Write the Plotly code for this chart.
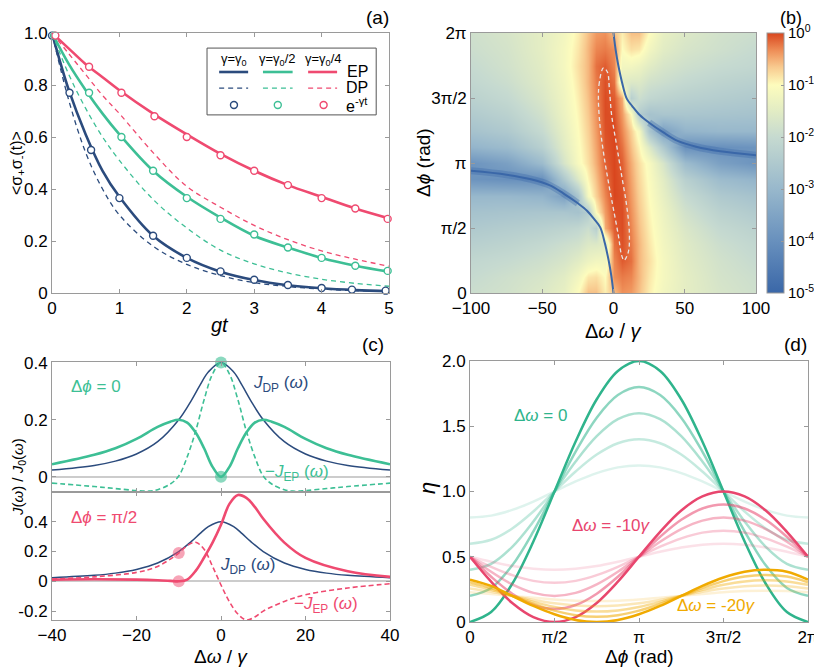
import plotly.graph_objects as go

FONT = "Arial, 'Liberation Sans', sans-serif"
NAVY = '#2b4b7d'
GREEN = '#3dbf95'
PINK = '#ef4a70'
D_GREEN = '47,180,140'
D_PINK = '232,70,110'
D_ORANGE = '240,170,0'
FRAME = '#9a9a9a'

# the page adds an 8px body margin, so the figure is drawn 8px smaller and shifted
W, H, OFF = 814, 659, 8

# ---------------- (a) decay curves ----------------
t_grid = [0, 0.25, 0.5, 0.75, 1, 1.5, 2, 2.5, 3, 3.5, 4, 4.5, 5]
ep_g0 = [1, 0.78, 0.61, 0.47, 0.37, 0.22, 0.135, 0.082, 0.05, 0.03, 0.018, 0.011, 0.007]
ep_g2 = [1, 0.88, 0.78, 0.69, 0.61, 0.47, 0.37, 0.29, 0.22, 0.175, 0.135, 0.105, 0.082]
ep_g4 = [1, 0.94, 0.88, 0.83, 0.78, 0.69, 0.61, 0.535, 0.47, 0.415, 0.37, 0.325, 0.287]
dp_g0 = [1, 0.74, 0.54, 0.40, 0.30, 0.18, 0.11, 0.067, 0.04, 0.025, 0.015, 0.009, 0.005]
dp_g2 = [1, 0.84, 0.71, 0.60, 0.51, 0.36, 0.25, 0.165, 0.112, 0.077, 0.053, 0.037, 0.026]
dp_g4 = [1, 0.92, 0.84, 0.76, 0.69, 0.54, 0.41, 0.33, 0.26, 0.205, 0.162, 0.13, 0.103]

circ_t_g0 = [0, 0.26, 0.58, 1.0, 1.5, 2.0, 2.5, 3.0, 3.5, 4.0, 4.45, 4.95]
circ_v_g0 = [0.99, 0.77, 0.55, 0.365, 0.22, 0.135, 0.083, 0.051, 0.031, 0.019, 0.013, 0.009]
circ_t_g2 = [0.03, 0.55, 1.03, 1.5, 2.0, 2.5, 3.0, 3.5, 4.0, 4.5, 4.98]
circ_v_g2 = [0.99, 0.77, 0.60, 0.47, 0.365, 0.285, 0.225, 0.175, 0.135, 0.105, 0.085]
circ_t_g4 = [0.05, 0.55, 1.03, 1.52, 2.0, 2.5, 3.0, 3.5, 4.0, 4.5, 4.98]
circ_v_g4 = [0.99, 0.87, 0.77, 0.68, 0.60, 0.53, 0.47, 0.415, 0.365, 0.325, 0.285]

# ---------------- (b) log10 map, one list per detuning column ----------------
hm_dw = [-100, -75, -50, -35, -25, -18, -12, -6, 0, 6, 12, 18, 25, 35, 50, 75, 100]
hm_phi = [0, 0.125, 0.25, 0.375, 0.5, 0.625, 0.75, 0.875, 1.0,
          1.125, 1.25, 1.375, 1.5, 1.625, 1.75, 1.875, 2.0]
col_m100 = [-1.9, -2.0, -2.1, -2.3, -2.5, -2.7, -3.0, -3.9, -3.9, -3.1, -2.7, -2.45, -2.25, -2.1, -2.0, -1.9, -1.85]
col_m75 = [-1.8, -1.85, -2.0, -2.2, -2.4, -2.65, -3.0, -4.0, -3.6, -2.9, -2.5, -2.25, -2.05, -1.9, -1.8, -1.75, -1.7]
col_m50 = [-1.6, -1.7, -1.85, -2.05, -2.3, -2.6, -3.1, -4.0, -2.9, -2.3, -2.0, -1.8, -1.65, -1.55, -1.5, -1.45, -1.45]
col_m35 = [-1.4, -1.5, -1.7, -1.9, -2.2, -2.6, -3.6, -2.5, -1.7, -1.5, -1.4, -1.3, -1.25, -1.2, -1.15, -1.15, -1.2]
col_m25 = [-1.0, -1.2, -1.5, -1.8, -2.1, -2.7, -2.6, -1.6, -1.1, -1.05, -1.0, -0.95, -0.9, -0.85, -0.8, -0.85, -0.9]
col_m18 = [-0.6, -0.85, -1.3, -1.6, -1.9, -2.4, -1.15, -0.95, -0.8, -0.75, -0.7, -0.65, -0.6, -0.55, -0.55, -0.55, -0.6]
col_m12 = [-0.6, -0.8, -1.2, -1.6, -2.3, -1.0, -0.7, -0.6, -0.5, -0.45, -0.4, -0.35, -0.3, -0.25, -0.2, -0.3, -0.4]
col_m6 = [-0.9, -1.0, -1.2, -1.5, -0.5, -0.4, -0.3, -0.2, -0.12, -0.08, -0.05, -0.03, -0.03, -0.05, -0.1, -0.25, -0.35]
col_0 = [-0.6, -0.35, -0.3, -0.2, -0.1, -0.05, 0, 0, 0, 0, 0, -0.05, -0.1, -0.2, -0.3, -0.35, -0.6]
col_p6 = [-0.35, -0.25, -0.1, -0.05, -0.03, -0.03, -0.05, -0.08, -0.12, -0.2, -0.3, -0.4, -0.5, -1.5, -1.2, -1.0, -0.9]
col_p12 = [-0.4, -0.3, -0.2, -0.25, -0.3, -0.35, -0.4, -0.45, -0.5, -0.6, -0.7, -1.0, -2.3, -1.6, -1.2, -0.8, -0.6]
col_p18 = [-0.6, -0.55, -0.55, -0.55, -0.6, -0.65, -0.7, -0.75, -0.8, -0.95, -1.15, -2.4, -1.9, -1.6, -1.3, -0.85, -0.6]
col_p25 = [-0.9, -0.85, -0.8, -0.85, -0.9, -0.95, -1.0, -1.05, -1.1, -1.6, -2.6, -2.7, -2.1, -1.8, -1.5, -1.2, -1.0]
col_p35 = [-1.2, -1.15, -1.15, -1.2, -1.25, -1.3, -1.4, -1.5, -1.7, -2.5, -3.6, -2.6, -2.2, -1.9, -1.7, -1.5, -1.4]
col_p50 = [-1.45, -1.45, -1.5, -1.55, -1.65, -1.8, -2.0, -2.3, -2.9, -4.0, -3.1, -2.6, -2.3, -2.05, -1.85, -1.7, -1.6]
col_p75 = [-1.7, -1.75, -1.8, -1.9, -2.05, -2.25, -2.5, -2.9, -3.6, -4.0, -3.0, -2.65, -2.4, -2.2, -2.0, -1.85, -1.8]
col_p100 = [-1.85, -1.9, -2.0, -2.1, -2.25, -2.45, -2.7, -3.1, -3.9, -3.9, -3.0, -2.7, -2.5, -2.3, -2.1, -2.0, -1.9]
hm_cols = [col_m100, col_m75, col_m50, col_m35, col_m25, col_m18, col_m12, col_m6, col_0,
           col_p6, col_p12, col_p18, col_p25, col_p35, col_p50, col_p75, col_p100]

# zero line of the map (phase in units of pi)
zl_left_dw = [-100, -75, -58, -45, -35, -25, -18.6, -13, -9.3, -6, -3.4, -1.5, 0]
zl_left_phi = [0.94, 0.91, 0.875, 0.83, 0.765, 0.69, 0.633, 0.56, 0.505, 0.38, 0.25, 0.13, 0]
zl_right_dw = [0, 1.5, 3.4, 6, 9.3, 13, 18.6, 25, 35, 45, 58, 75, 100]
zl_right_phi = [2.0, 1.87, 1.75, 1.62, 1.495, 1.44, 1.367, 1.31, 1.235, 1.17, 1.125, 1.09, 1.06]

# dashed contour round the maximum
ell_dw = [-7.1, -9.9, -10.6, -9.5, -7.1, -3.6, -0.1, 3.4, 5.7, 7.4, 10.4, 11.1, 9.2, 5.7, 2.2, -1.3, -2.9, -4.3, -7.1]
ell_phi = [1.731, 1.623, 1.495, 1.290, 1.085, 0.854, 0.649, 0.444, 0.290, 0.251, 0.315, 0.469, 0.674, 0.905,
           1.136, 1.367, 1.572, 1.700, 1.731]

# ---------------- (c) spectral densities ----------------
c_dp_x = [-40, -30, -25, -20, -15, -10, -7, -5, -3, 0, 3, 5, 7, 10, 15, 20, 25, 30, 40]
c_dp_y = [0.024, 0.04, 0.055, 0.08, 0.123, 0.2, 0.268, 0.32, 0.367, 0.4, 0.367, 0.32, 0.268, 0.2, 0.123,
          0.08, 0.055, 0.04, 0.024]
c0_ep_x = [-40, -30, -25, -20, -15, -12, -10, -8, -6, -4, -2, 0, 2, 4, 6, 8, 10, 12, 15, 20, 25, 30, 40]
c0_ep_y = [0.044, 0.077, 0.1, 0.133, 0.175, 0.193, 0.2, 0.19, 0.155, 0.1, 0.035, 0, 0.035, 0.1, 0.155,
           0.19, 0.2, 0.193, 0.175, 0.133, 0.1, 0.077, 0.044]
c0_mep_x = [-40, -30, -25, -20, -17, -15, -12, -10, -8, -6, -4, -2, 0, 2, 4, 6, 8, 10, 12, 15, 17, 20, 25, 30, 40]
c0_mep_y = [-0.022, -0.034, -0.041, -0.048, -0.05, -0.045, -0.025, 0.003, 0.07, 0.16, 0.27, 0.36, 0.4,
            0.36, 0.27, 0.16, 0.07, 0.003, -0.025, -0.045, -0.05, -0.048, -0.041, -0.034, -0.022]
c0_dots_x = [0, 0]
c0_dots_y = [0.4, 0.0]

c1_ep_x = [-40, -30, -20, -15, -12, -10, -8, -6, -4, -2, 0, 2, 4, 6, 8, 10, 15, 20, 30, 40]
c1_ep_y = [0.011, 0.014, 0.011, 0.007, 0.003, 0.0, 0.012, 0.07, 0.16, 0.26, 0.38, 0.52, 0.58, 0.56, 0.5,
           0.42, 0.26, 0.157, 0.067, 0.03]
c1_mep_x = [-40, -30, -20, -15, -10, -8, -6, -4, -2, 0, 2, 4, 6, 8, 10, 15, 20, 30, 40]
c1_mep_y = [0.015, 0.03, 0.06, 0.1, 0.19, 0.24, 0.262, 0.215, 0.1, -0.025, -0.138, -0.22, -0.26, -0.24,
            -0.2, -0.135, -0.09, -0.045, -0.016]
c1_dots_x = [-10, -10]
c1_dots_y = [0.19, 0.0]

# ---------------- (d) efficiency vs phase ----------------
d_phi = [0, 0.125, 0.25, 0.375, 0.5, 0.625, 0.75, 0.875, 1.0,
         1.125, 1.25, 1.375, 1.5, 1.625, 1.75, 1.875, 2.0]
eta_dw0 = [
    [0.8, 0.815, 0.859, 0.923, 1, 1.077, 1.141, 1.185, 1.2, 1.185, 1.141, 1.077, 1, 0.923, 0.859, 0.815, 0.8],
    [0.6, 0.630, 0.717, 0.847, 1, 1.153, 1.283, 1.370, 1.4, 1.370, 1.283, 1.153, 1, 0.847, 0.717, 0.630, 0.6],
    [0.4, 0.446, 0.576, 0.770, 1, 1.230, 1.424, 1.554, 1.6, 1.554, 1.424, 1.230, 1, 0.770, 0.576, 0.446, 0.4],
    [0.2, 0.261, 0.434, 0.694, 1, 1.306, 1.566, 1.739, 1.8, 1.739, 1.566, 1.306, 1, 0.694, 0.434, 0.261, 0.2],
    [0, 0.076, 0.293, 0.617, 1, 1.383, 1.707, 1.924, 2.0, 1.924, 1.707, 1.383, 1, 0.617, 0.293, 0.076, 0],
]
eta_dw10 = [
    [0.5, 0.462, 0.429, 0.408, 0.4, 0.408, 0.429, 0.462, 0.5, 0.538, 0.571, 0.592, 0.6, 0.592, 0.571, 0.538, 0.5],
    [0.5, 0.423, 0.359, 0.315, 0.3, 0.315, 0.359, 0.423, 0.5, 0.577, 0.641, 0.685, 0.7, 0.685, 0.641, 0.577, 0.5],
    [0.5, 0.385, 0.288, 0.223, 0.2, 0.223, 0.288, 0.385, 0.5, 0.615, 0.712, 0.777, 0.8, 0.777, 0.712, 0.615, 0.5],
    [0.5, 0.347, 0.217, 0.130, 0.1, 0.130, 0.217, 0.347, 0.5, 0.653, 0.783, 0.870, 0.9, 0.870, 0.783, 0.653, 0.5],
    [0.5, 0.309, 0.146, 0.038, 0, 0.038, 0.146, 0.309, 0.5, 0.691, 0.854, 0.962, 1.0, 0.962, 0.854, 0.691, 0.5],
]
eta_dw20 = [
    [0.228, 0.215, 0.2, 0.185, 0.172, 0.163, 0.16, 0.163, 0.172, 0.185, 0.2, 0.215, 0.228, 0.237, 0.24, 0.237, 0.228],
    [0.257, 0.231, 0.2, 0.169, 0.143, 0.126, 0.12, 0.126, 0.143, 0.169, 0.2, 0.231, 0.257, 0.274, 0.28, 0.274, 0.257],
    [0.285, 0.246, 0.2, 0.154, 0.115, 0.089, 0.08, 0.089, 0.115, 0.154, 0.2, 0.246, 0.285, 0.311, 0.32, 0.311, 0.285],
    [0.305, 0.261, 0.2, 0.139, 0.087, 0.052, 0.04, 0.052, 0.087, 0.139, 0.2, 0.261, 0.313, 0.348, 0.36, 0.348, 0.305],
    [0.325, 0.277, 0.2, 0.123, 0.059, 0.015, 0, 0.015, 0.059, 0.123, 0.2, 0.277, 0.341, 0.385, 0.4, 0.385, 0.325],
]
d_alpha = [0.16, 0.28, 0.4, 0.55, 1.0]

PI_TICKS = [0, 0.5, 1, 1.5, 2]
PI_TEXT = ['0', 'π/2', 'π', '3π/2', '2π']


def px(xp, yp):
    """screen pixel -> paper fraction"""
    return (xp - OFF) / W, 1 - (yp - OFF) / H


def xdom(a, b):
    return [px(a, 0)[0], px(b, 0)[0]]


def ydom(top, bottom):
    return [px(0, bottom)[1], px(0, top)[1]]


def ax(domain, **kw):
    base = dict(domain=domain, showline=True, linecolor=FRAME, linewidth=1, mirror='ticks',
                ticks='inside', ticklen=4, tickcolor=FRAME, showgrid=False, zeroline=False,
                automargin=False, tickfont=dict(size=17, color='black', family=FONT))
    base.update(kw)
    return base


fig = go.Figure()

# (a)
for ep, dp, col in [(ep_g0, dp_g0, NAVY), (ep_g2, dp_g2, GREEN), (ep_g4, dp_g4, PINK)]:
    fig.add_trace(go.Scatter(x=t_grid, y=dp, mode='lines', line=dict(color=col, width=1.3, dash='5px,4px', shape='spline'),
                             xaxis='x', yaxis='y'))
    fig.add_trace(go.Scatter(x=t_grid, y=ep, mode='lines', line=dict(color=col, width=2.6, shape='spline'),
                             xaxis='x', yaxis='y'))
for ct, cv, col in [(circ_t_g0, circ_v_g0, NAVY), (circ_t_g2, circ_v_g2, GREEN), (circ_t_g4, circ_v_g4, PINK)]:
    fig.add_trace(go.Scatter(x=ct, y=cv, mode='markers', cliponaxis=False,
                             marker=dict(symbol='circle', size=7, color='white', line=dict(color=col, width=1.4)),
                             xaxis='x', yaxis='y'))

# (b)
map_scale = [[0.0, '#3a67a8'], [0.2, '#6890bd'], [0.4, '#98b8cc'], [0.6, '#c6dad0'], [0.7, '#e2ecc4'],
             [0.8, '#fdfcbd'], [0.87, '#f8c98e'], [0.93, '#ef915a'], [1.0, '#d9461e']]
cb_x, cb_y = px(767, 163)
fig.add_trace(go.Heatmap(
    x=hm_dw, y=hm_phi, z=hm_cols, transpose=True, zsmooth='best', zmin=-5, zmax=0,
    colorscale=map_scale, xaxis='x2', yaxis='y2',
    colorbar=dict(x=cb_x, xanchor='left', y=cb_y, yanchor='middle', len=260 / H,
                  thickness=17, xpad=0, ypad=0, outlinecolor=FRAME, outlinewidth=1,
                  tickvals=[-5, -4, -3, -2, -1, 0], ticks='inside', ticklen=3, tickcolor=FRAME,
                  ticktext=['10<sup>-5</sup>', '10<sup>-4</sup>', '10<sup>-3</sup>', '10<sup>-2</sup>',
                            '10<sup>-1</sup>', '10<sup>0</sup>'],
                  tickfont=dict(size=15, color='black', family=FONT))))
# broad dark band where the zero line runs flat
fig.add_trace(go.Scatter(x=zl_left_dw[:6], y=zl_left_phi[:6], mode='lines',
                         line=dict(color='rgba(58,103,168,0.35)', width=7, shape='spline'), xaxis='x2', yaxis='y2'))
fig.add_trace(go.Scatter(x=zl_right_dw[7:], y=zl_right_phi[7:], mode='lines',
                         line=dict(color='rgba(58,103,168,0.35)', width=7, shape='spline'), xaxis='x2', yaxis='y2'))
for xs, ys in [(zl_left_dw, zl_left_phi), (zl_right_dw, zl_right_phi)]:
    fig.add_trace(go.Scatter(x=xs, y=ys, mode='lines', line=dict(color='#3a67a8', width=2, shape='spline'),
                             xaxis='x2', yaxis='y2'))
fig.add_trace(go.Scatter(x=ell_dw, y=ell_phi, mode='lines', line=dict(color='#e6e6e6', width=1.3, dash='4px,3px', shape='spline'),
                         xaxis='x2', yaxis='y2'))

# (c) top
fig.add_trace(go.Scatter(x=c_dp_x, y=c_dp_y, mode='lines', line=dict(color=NAVY, width=1.5, shape='spline'),
                         xaxis='x3', yaxis='y3'))
fig.add_trace(go.Scatter(x=c0_mep_x, y=c0_mep_y, mode='lines', line=dict(color=GREEN, width=1.6, dash='5px,3px', shape='spline'),
                         xaxis='x3', yaxis='y3'))
fig.add_trace(go.Scatter(x=c0_ep_x, y=c0_ep_y, mode='lines', line=dict(color=GREEN, width=2.6, shape='spline'),
                         xaxis='x3', yaxis='y3'))
fig.add_trace(go.Scatter(x=c0_dots_x, y=c0_dots_y, mode='markers', cliponaxis=False,
                         marker=dict(size=12, color='rgba(61,191,149,0.6)'), xaxis='x3', yaxis='y3'))
# (c) bottom
fig.add_trace(go.Scatter(x=c_dp_x, y=c_dp_y, mode='lines', line=dict(color=NAVY, width=1.5, shape='spline'),
                         xaxis='x4', yaxis='y4'))
fig.add_trace(go.Scatter(x=c1_mep_x, y=c1_mep_y, mode='lines', line=dict(color=PINK, width=1.6, dash='5px,3px', shape='spline'),
                         xaxis='x4', yaxis='y4'))
fig.add_trace(go.Scatter(x=c1_ep_x, y=c1_ep_y, mode='lines', line=dict(color=PINK, width=2.6, shape='spline'),
                         xaxis='x4', yaxis='y4'))
fig.add_trace(go.Scatter(x=c1_dots_x, y=c1_dots_y, mode='markers', cliponaxis=False,
                         marker=dict(size=12, color='rgba(239,74,112,0.5)'), xaxis='x4', yaxis='y4'))

# (d)
for family, rgb in [(eta_dw0, D_GREEN), (eta_dw10, D_PINK), (eta_dw20, D_ORANGE)]:
    for vals, a in zip(family, d_alpha):
        fig.add_trace(go.Scatter(x=d_phi, y=vals, mode='lines',
                                 line=dict(color=f'rgba({rgb},{a})', width=2.5, shape='spline'),
                                 xaxis='x5', yaxis='y5'))

# axes
fig.update_layout(
    xaxis=ax(xdom(52, 389), anchor='y', range=[0, 5], tickvals=[0, 1, 2, 3, 4, 5]),
    yaxis=ax(ydom(33, 293), anchor='x', range=[0, 1.0], tickvals=[0, 0.2, 0.4, 0.6, 0.8, 1.0],
             ticktext=['0', '0.2', '0.4', '0.6', '0.8', '1.0']),
    xaxis2=ax(xdom(471, 756), anchor='y2', range=[-100, 100], tickvals=[-100, -50, 0, 50, 100]),
    yaxis2=ax(ydom(33, 293), anchor='x2', range=[0, 2], tickvals=PI_TICKS, ticktext=PI_TEXT),
    xaxis3=ax(xdom(52, 390), anchor='y3', range=[-40, 40], tickvals=[-40, -20, 0, 20, 40],
              showticklabels=False),
    yaxis3=ax(ydom(362, 492), anchor='x3', range=[-0.053, 0.402], tickvals=[0, 0.2, 0.4],
              ticktext=['0', '0.2', '0.4'], zeroline=True, zerolinecolor='#cccccc', zerolinewidth=1.5),
    xaxis4=ax(xdom(52, 390), anchor='y4', range=[-40, 40], tickvals=[-40, -20, 0, 20, 40]),
    yaxis4=ax(ydom(492, 620), anchor='x4', range=[-0.26, 0.6], tickvals=[-0.2, 0, 0.2, 0.4],
              ticktext=['-0.2', '0', '0.2', '0.4'], zeroline=True, zerolinecolor='#cccccc', zerolinewidth=1.5),
    xaxis5=ax(xdom(470, 808), anchor='y5', range=[0, 2], tickvals=PI_TICKS, ticktext=PI_TEXT),
    yaxis5=ax(ydom(361, 622), anchor='x5', range=[0, 2], tickvals=[0, 0.5, 1, 1.5, 2],
              ticktext=['0', '0.5', '1.0', '1.5', '2.0']),
)

# legend box of (a), drawn by hand
leg_cols = [(2.70, NAVY, 'γ=γ<sub>0</sub>', 2.48, 2.91), (3.35, GREEN, 'γ=γ<sub>0</sub>/2', 3.13, 3.57),
            (4.03, PINK, 'γ=γ<sub>0</sub>/4', 3.80, 4.23)]
shapes = [dict(type='rect', xref='x', yref='y', x0=2.3, x1=4.81, y0=0.685, y1=0.942,
               line=dict(color='#555555', width=1), fillcolor='white', layer='above')]
annots = []
for cx, col, head, s0, s1 in leg_cols:
    shapes.append(dict(type='line', xref='x', yref='y', x0=s0, x1=s1, y0=0.85, y1=0.85,
                       line=dict(color=col, width=2.6)))
    shapes.append(dict(type='line', xref='x', yref='y', x0=s0, x1=s1, y0=0.788, y1=0.788,
                       line=dict(color=col, width=1.3, dash='5px,4px')))
    shapes.append(dict(type='circle', xref='x', yref='y', xsizemode='pixel', ysizemode='pixel',
                       xanchor=cx, yanchor=0.723, x0=-3.5, x1=3.5, y0=-3.5, y1=3.5,
                       line=dict(color=col, width=1.4)))
    annots.append(dict(x=cx, y=0.898, xref='x', yref='y', text=head, showarrow=False,
                       font=dict(size=13, color='black', family=FONT)))
for lab, yy in [('EP', 0.852), ('DP', 0.79), ('e<sup>-γt</sup>', 0.722)]:
    annots.append(dict(x=4.53, y=yy, xref='x', yref='y', text=lab, showarrow=False,
                       font=dict(size=16, color='black', family=FONT)))


def txt(x, y, text, size=17, color='black', xref='paper', yref='paper', angle=0, xanchor='center'):
    annots.append(dict(x=x, y=y, xref=xref, yref=yref, text=text, showarrow=False, textangle=angle,
                       xanchor=xanchor, yanchor='middle', font=dict(size=size, color=color, family=FONT)))


# panel letters
for lab, xp, yp, sz in [('(a)', 391, 18, 19), ('(b)', 804, 18, 18), ('(c)', 386, 344, 19), ('(d)', 809, 344, 19)]:
    x, y = px(xp, yp)
    txt(x, y, lab, size=sz, xanchor='right')

# axis titles
txt(*px(220, 325), '<i>gt</i>', size=20)
txt(*px(613, 331), 'Δ<i>ω</i> / <i>γ</i>', size=20)
txt(*px(221, 656), 'Δ<i>ω</i> / <i>γ</i>', size=19)
txt(*px(639, 656), 'Δ<i>ϕ</i> (rad)', size=19)
txt(*px(18, 163), '&lt;σ<sub>+</sub>σ<sub>-</sub>(t)&gt;', size=16, angle=-90)
txt(*px(424, 163), 'Δ<i>ϕ</i> (rad)', size=19, angle=-90)
txt(*px(18, 477), '<i>J</i>(<i>ω</i>) / <i>J</i><sub>0</sub>(<i>ω</i>)', size=15, angle=-90)
txt(*px(427, 488), '<i>η</i>', size=22, angle=-90)

# in-panel labels
txt(-29.7, 0.315, 'Δ<i>ϕ</i> = 0', color=GREEN, xref='x3', yref='y3')
txt(14.1, 0.324, '<i>J</i><sub>DP</sub> (<i>ω</i>)', color=NAVY, xref='x3', yref='y3')
txt(17.9, 0.015, '−<i>J</i><sub>EP</sub> (<i>ω</i>)', color=GREEN, xref='x3', yref='y3')
txt(-27.6, 0.427, 'Δ<i>ϕ</i> = π/2', color=PINK, xref='x4', yref='y4')
txt(6.2, 0.1, '<i>J</i><sub>DP</sub> (<i>ω</i>)', color=NAVY, xref='x4', yref='y4')
txt(24.8, -0.157, '−<i>J</i><sub>EP</sub> (<i>ω</i>)', color=PINK, xref='x4', yref='y4')
txt(0.42, 1.58, 'Δ<i>ω</i> = 0', color='rgb(47,180,140)', xref='x5', yref='y5')
txt(0.836, 0.737, 'Δ<i>ω</i> = -10<i>γ</i>', color='rgb(232,70,110)', xref='x5', yref='y5')
txt(1.458, 0.123, 'Δ<i>ω</i> = -20<i>γ</i>', color='rgb(240,170,0)', xref='x5', yref='y5')

fig.update_layout(template='none', width=W, height=H,
                  margin=dict(l=0, r=0, t=0, b=0, pad=0, autoexpand=False), showlegend=False,
                  paper_bgcolor='white', plot_bgcolor='white', shapes=shapes, annotations=annots,
                  font=dict(family=FONT, color='black'))

fig.write_html("out.html")
